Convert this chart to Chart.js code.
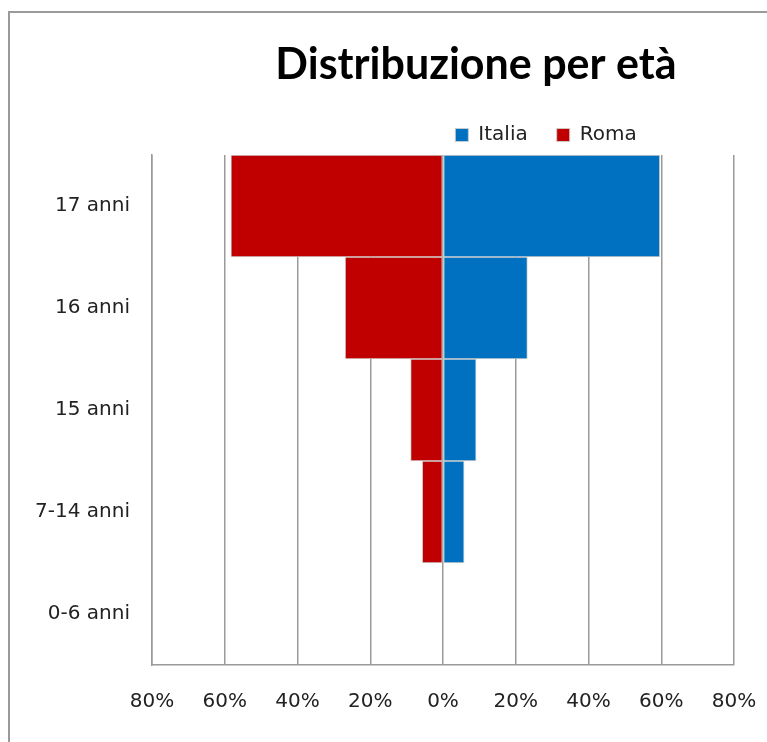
<!DOCTYPE html>
<html>
<head>
<meta charset="utf-8">
<script src="https://cdn.jsdelivr.net/npm/chart.js@4.4.1/dist/chart.umd.min.js"></script>
<style>
  html, body { margin: 0; padding: 0; background: #fff; overflow: hidden; width: 767px; height: 742px; }
  #frame { position: absolute; left: 8px; top: 11px; width: 900px; height: 900px; border: 2px solid #9a9a9a; box-sizing: border-box; }
  #c { position: absolute; left: 0; top: 0; }
</style>
</head>
<body>
<div id="frame"></div>
<canvas id="c" width="767" height="742"></canvas>
<script>
const categories = ['17 anni', '16 anni', '15 anni', '7-14 anni', '0-6 anni'];
const italia = [59.6, 23.2, 9.1, 5.8, 0];
const roma = [-58.3, -26.9, -8.9, -5.7, 0];
const titleText = 'Distribuzione per età';
const seriesNames = ['Italia', 'Roma'];

const TITLE_CENTER = 476;
const LEGEND_CENTER = 546;
const LEGEND_LIFT = 0;

const shiftPlugin = {
  id: 'shift',
  beforeDraw(chart) {
    const t = chart.titleBlock;
    if (t) { const w = 400; t.left = TITLE_CENTER - w; t.right = TITLE_CENTER + w; }
    const l = chart.legend;
    if (l) {
      const w = l.right - l.left; l.left = LEGEND_CENTER - w / 2; l.right = LEGEND_CENTER + w / 2;
      l.top -= LEGEND_LIFT; l.bottom -= LEGEND_LIFT;
    }
  }
};

function draw() {
  new Chart(document.getElementById('c'), {
    type: 'bar',
    data: {
      labels: categories,
      datasets: [
        { label: seriesNames[0], data: italia, backgroundColor: '#0070C0', borderColor: 'rgba(205,205,205,0.9)', borderWidth: 1, borderSkipped: false, barPercentage: 1, categoryPercentage: 1 },
        { label: seriesNames[1], data: roma, backgroundColor: '#C00000', borderColor: 'rgba(205,205,205,0.9)', borderWidth: 1, borderSkipped: false, barPercentage: 1, categoryPercentage: 1 }
      ]
    },
    options: {
      indexAxis: 'y',
      responsive: false,
      animation: false,
      layout: { padding: { top: 0, left: 0, right: 33, bottom: 0 } },
      plugins: {
        title: {
          display: true, text: titleText, color: '#000',
          font: { family: 'Lato', weight: 'bold', size: 43 },
          padding: { top: 39, bottom: 5.4 }
        },
        legend: {
          display: true, position: 'top',
          labels: { font: { family: 'DejaVu Sans', size: 20 }, color: '#222', boxWidth: 13, boxHeight: 13, padding: 29 }
        },
        tooltip: { enabled: false }
      },
      scales: {
        x: {
          stacked: true, min: -80, max: 80,
          ticks: { stepSize: 20, callback: v => Math.abs(v) + '%', font: { family: 'DejaVu Sans', size: 20 }, color: '#222', padding: 3, maxRotation: 0 },
          grid: { color: '#9a9a9a', lineWidth: 1.5, drawTicks: true, tickLength: 22, tickColor: 'rgba(0,0,0,0)' },
          border: { display: true, color: '#9a9a9a', width: 1.5 },
          afterFit: s => { s.height = 77; }
        },
        y: {
          stacked: true,
          ticks: { font: { family: 'DejaVu Sans', size: 20 }, color: '#222', padding: 22 },
          grid: { display: false, drawTicks: false },
          border: { display: true, color: '#9a9a9a', width: 1.5 },
          afterFit: s => { s.width = 152; }
        }
      }
    },
    plugins: [shiftPlugin]
  });
}
if (document.fonts && document.fonts.load) {
  Promise.all([document.fonts.load('bold 43px Lato'), document.fonts.load('20px "DejaVu Sans"')]).then(draw, draw);
} else { draw(); }
</script>
</body>
</html>
